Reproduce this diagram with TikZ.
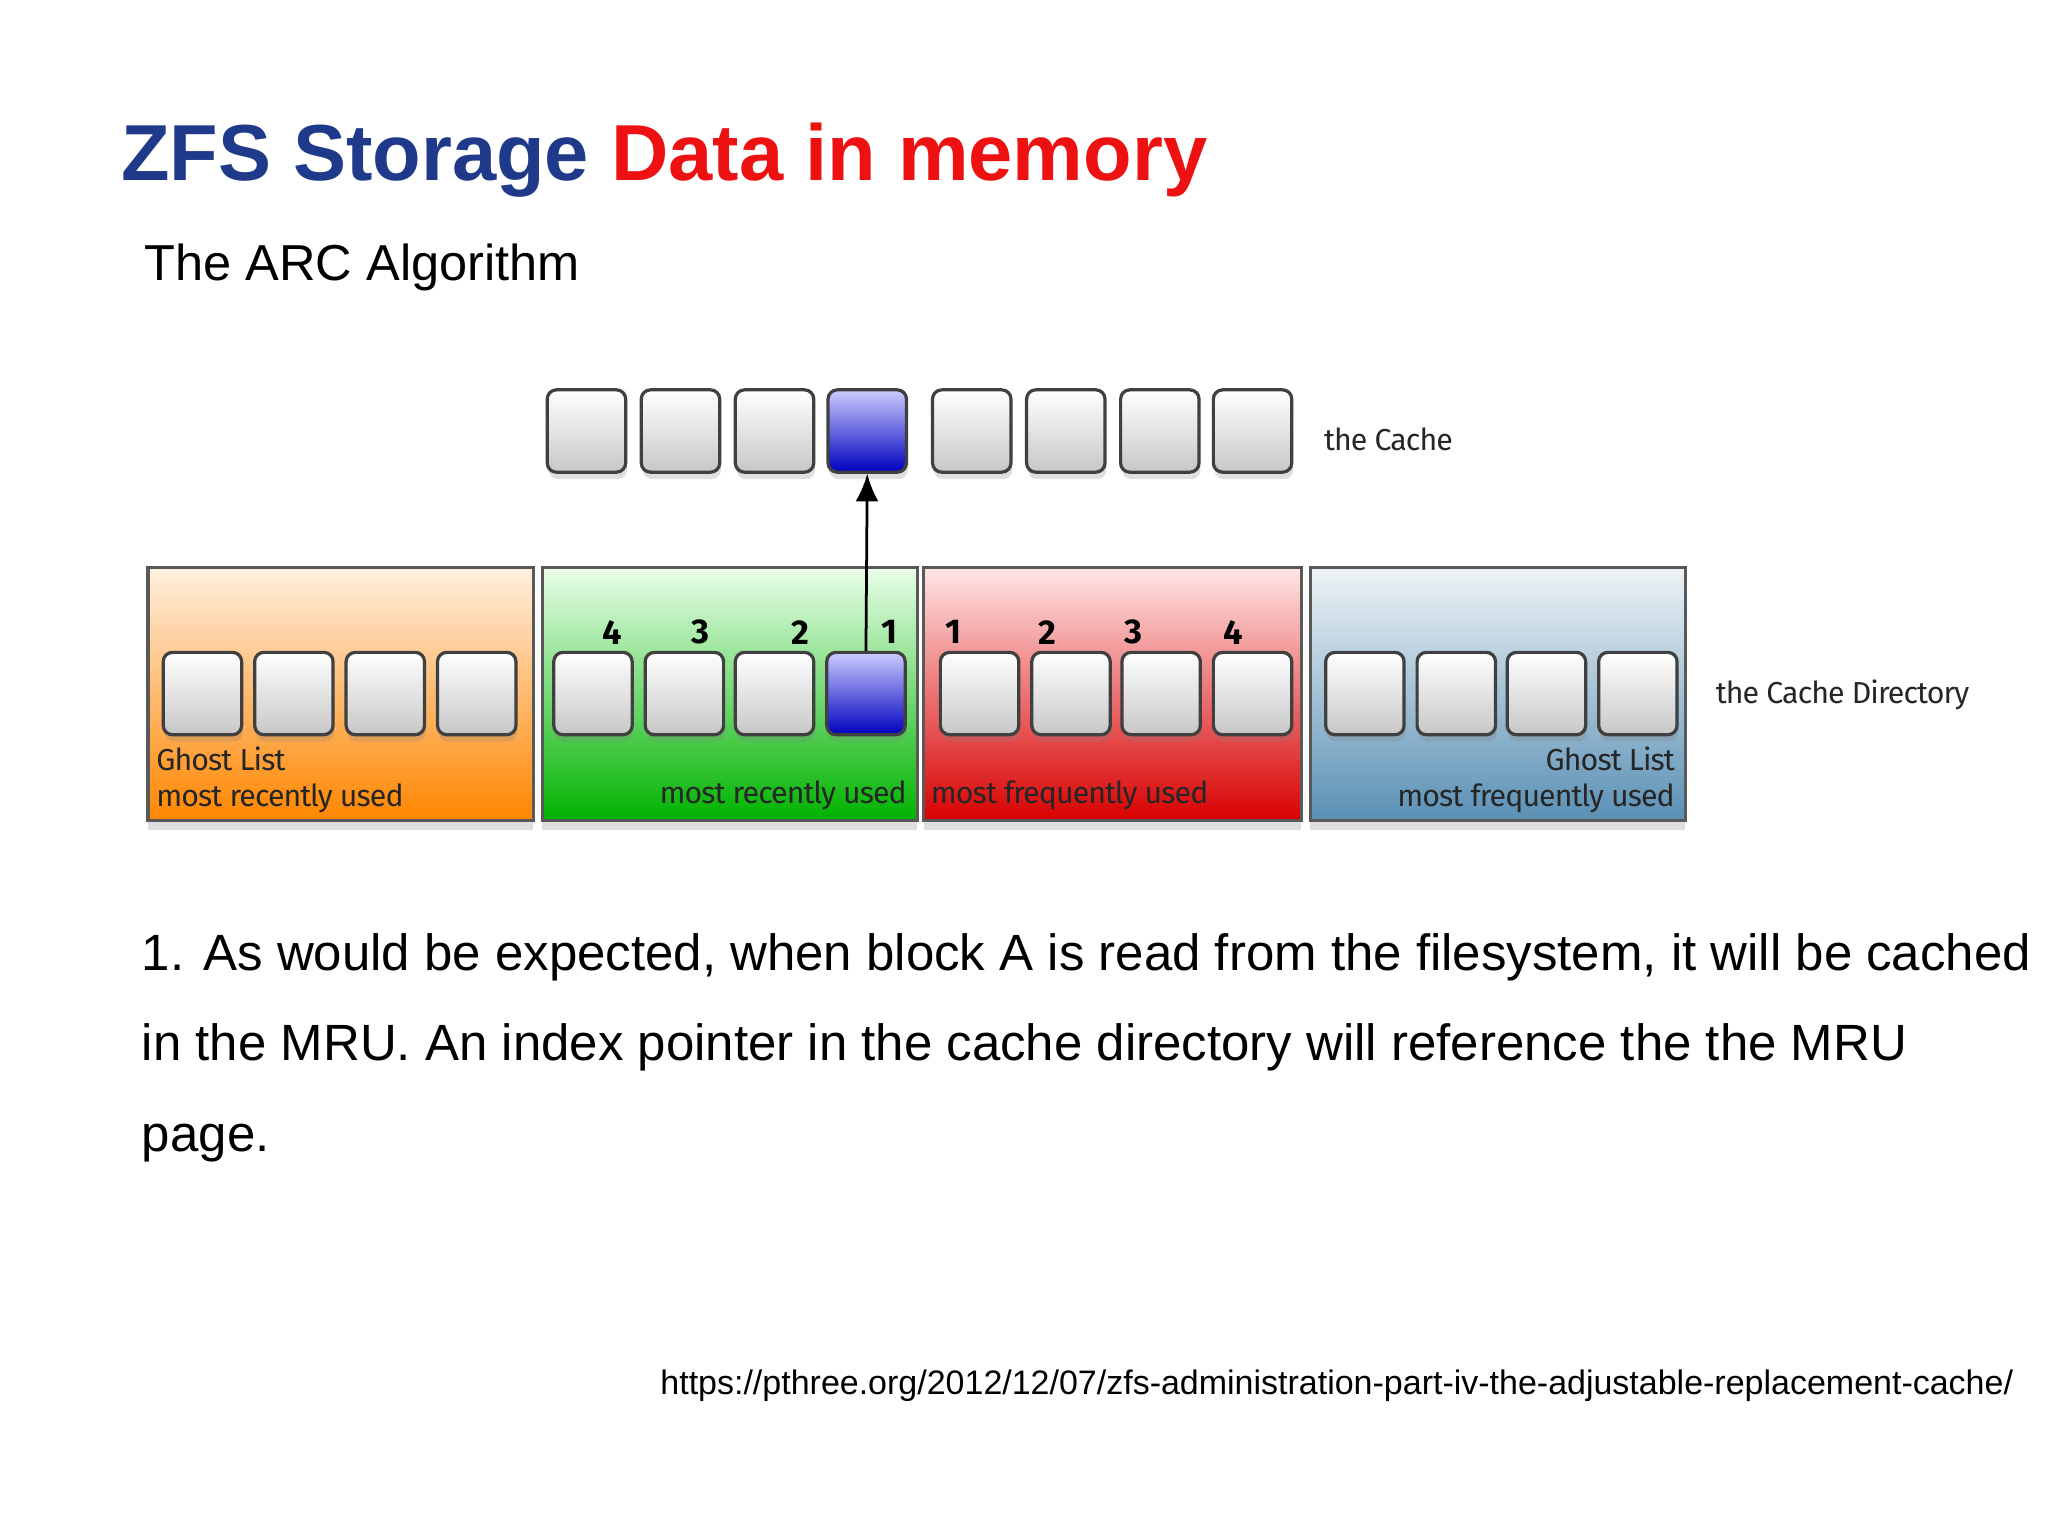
\documentclass[tikz,border=0pt]{standalone}
\usepackage{fontspec}
\setmainfont{Liberation Sans}
\newfontfamily\diag{Fira Sans}
\usetikzlibrary{shadows,arrows.meta}
\definecolor{ttlblue}{HTML}{1F3A8A}
\definecolor{ttlred}{HTML}{EE1111}
\definecolor{steel}{HTML}{5A90B5}
\definecolor{steeltop}{HTML}{EEF3F6}
\tikzset{
  slot/.style={draw=black!75,line width=0.7pt,rounded corners=2pt,minimum width=0.6cm,minimum height=0.63cm,inner sep=0pt,top color=white,bottom color=black!22,drop shadow={opacity=0.25,shadow xshift=0.3pt,shadow yshift=-1.5pt}},
  hot/.style={slot,top color=blue!20,bottom color=blue!75!black},
  panel/.style={draw=black!65,line width=0.7pt,minimum height=1.94cm,inner sep=0pt,anchor=north west,drop shadow={opacity=0.25,shadow xshift=0pt,shadow yshift=-2pt}},
  lab/.style={font=\diag\fontsize{6.6}{7}\selectfont\addfontfeature{LetterSpace=-3},text=black!85,inner sep=0pt},
  num/.style={font=\diag\fontsize{7.5}{8}\selectfont\bfseries,inner sep=0pt},
  body/.style={anchor=base west,inner sep=0pt,font=\fontsize{11.1}{13}\selectfont}
}
\begin{document}
\begin{tikzpicture}[x=0.01cm,y=-0.01cm]
\useasboundingbox[fill=white] (0,0) rectangle (1568,1176);
\node[anchor=base west,inner sep=0pt,font=\fontsize{17.3}{20}\selectfont\bfseries] (title) at (92,138) {\textcolor{ttlblue}{ZFS Storage} \textcolor{ttlred}{Data in memory}};
\node[anchor=base west,inner sep=0pt,font=\fontsize{11}{13}\selectfont] (sub) at (110,215) {The ARC Algorithm};
% cache
\foreach \x [count=\i] in {449,521,593,0,744,816,888,959}{
  \ifnum\i=4\relax\else\node[slot] (c\i) at (\x,330) {};\fi}
\node[hot] (c4) at (664,330) {};
\node[lab,anchor=west] (cachelab) at (1013,336) {the Cache};
% panels
\node[panel,minimum width=2.95cm,top color=orange!12,bottom color=orange!95!yellow] (po) at (112,433) {};
\node[panel,minimum width=2.87cm,top color=green!8,bottom color=green!70!black] (pg) at (414,433) {};
\node[panel,minimum width=2.89cm,top color=red!10,bottom color=red!85!black] (pr) at (706,433) {};
\node[panel,minimum width=2.87cm,top color=steeltop,bottom color=steel] (pb) at (1002,433) {};
\foreach \x [count=\i] in {155,225,295,365}{\node[slot] (o\i) at (\x,531) {};}
\foreach \x [count=\i] in {454,524,593}{\node[slot] (g\i) at (\x,531) {};}
\node[hot] (g4) at (663,531) {};
\foreach \x [count=\i] in {750,820,889,959}{\node[slot] (r\i) at (\x,531) {};}
\foreach \x [count=\i] in {1045,1115,1184,1254}{\node[slot] (b\i) at (\x,531) {};}
\node[num] (gn4) at (469,484) {4};
\node[num] (gn3) at (536,484) {3};
\node[num] (gn2) at (613,484) {2};
\node[num] (gn1) at (681,484) {1};
\node[num] (rn1) at (730,484) {1};
\node[num] (rn2) at (802,484) {2};
\node[num] (rn3) at (868,484) {3};
\node[num] (rn4) at (944,484) {4};
\draw[-{Latex[length=6pt,width=5pt]},line width=0.6pt] (g4.north) -- (c4.south);
\node[lab,anchor=west] (ol1) at (119,581) {Ghost List};
\node[lab,anchor=west] (ol2) at (119,611) {most recently used};
\node[lab,anchor=east] (gl) at (695,609) {most recently used};
\node[lab,anchor=west] (rl) at (712,609) {most frequently used};
\node[lab,anchor=east] (bl1) at (1283,581) {Ghost List};
\node[lab,anchor=east] (bl2) at (1283,611) {most frequently used};
\node[lab,anchor=west] (dirlab) at (1313,532) {the Cache Directory};
% body
\node[body] (t1) at (108,743) {1. As would be expected, when block A is read from the filesystem, it will be cached};
\node[body] (t2) at (108,812) {in the MRU. An index pointer in the cache directory will reference the the MRU};
\node[body] (t3) at (108,882) {page.};
\node[anchor=base east,inner sep=0pt,font=\fontsize{7.4}{9}\selectfont] (url) at (1542,1068) {https://pthree.org/2012/12/07/zfs-administration-part-iv-the-adjustable-replacement-cache/};
\end{tikzpicture}
\end{document}
